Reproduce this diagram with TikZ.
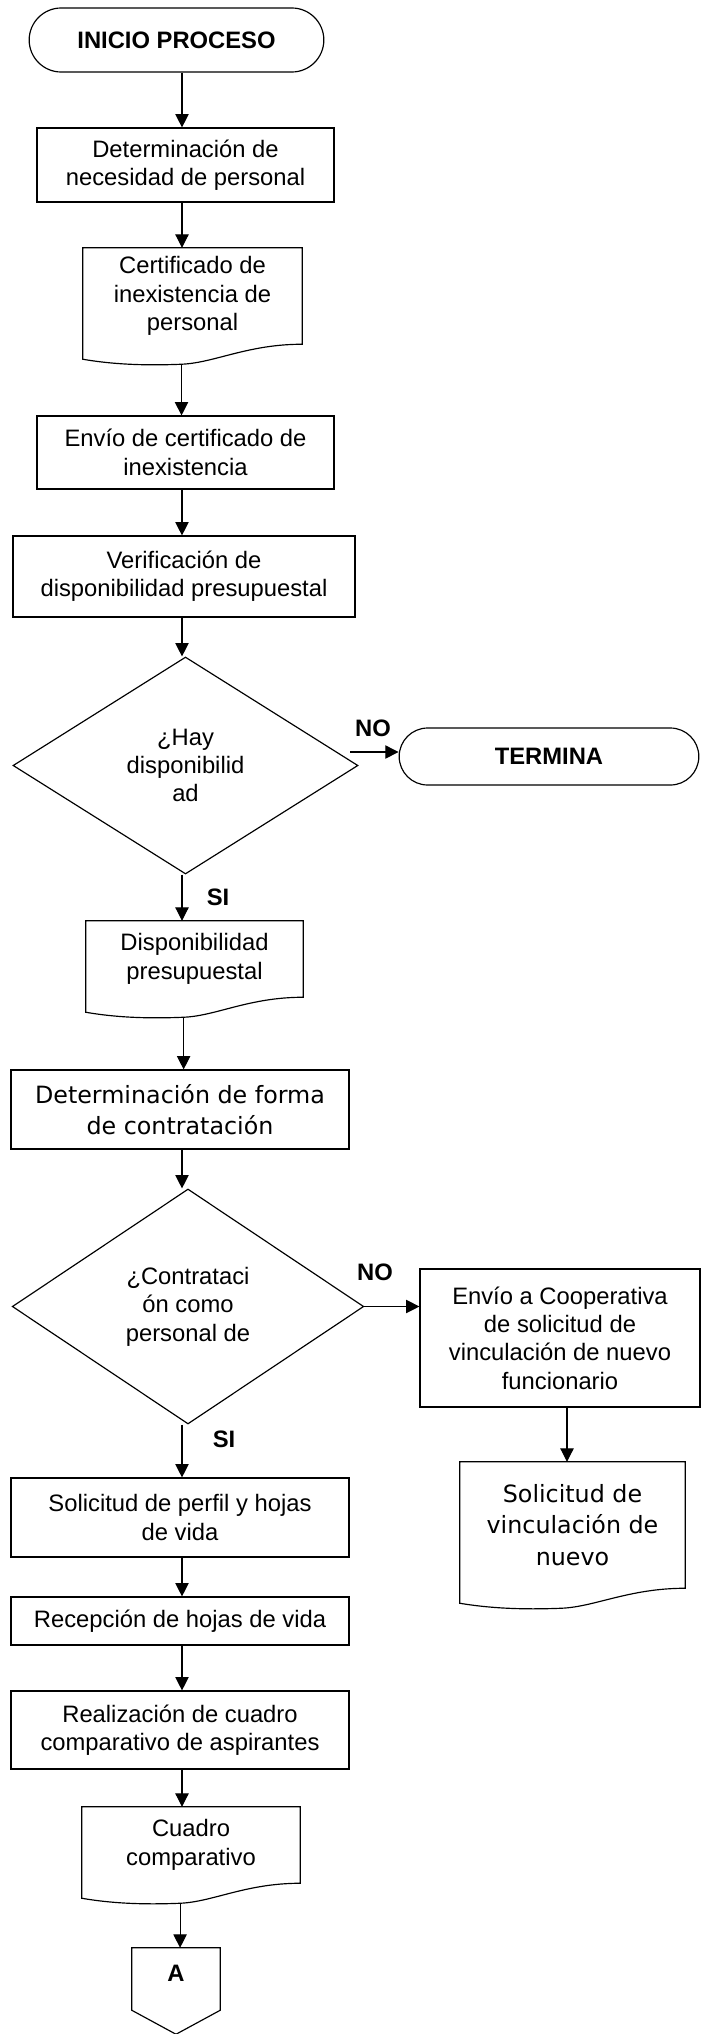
\documentclass[tikz,border=0pt]{standalone}
\usepackage{fontspec}
\setmainfont{Liberation Sans}
\newfontfamily\verd{DejaVu Sans}
\usetikzlibrary{arrows.meta,shapes.geometric,shapes.misc,calc}
\newcommand{\fsz}{\fontsize{20.3}{24.2}\selectfont}
\newcommand{\fszv}{\fontsize{20.3}{27}\selectfont}
\tikzset{
  arr/.style={line width=0.9pt, -{Triangle[length=4mm, width=4mm]}},
  shp/.style={line width=1pt},
  proc/.style={draw, line width=1pt, align=center, font=\fsz, inner sep=1pt},
  term/.style={draw, rounded rectangle, line width=1pt, font=\fsz\bfseries, inner sep=1pt},
  dec/.style={draw, diamond, line width=1pt, align=center, font=\fsz, inner sep=0pt},
  docbox/.style={align=center, font=\fsz, inner sep=0pt},
  lbl/.style={font=\fsz\bfseries, inner sep=0pt},
}
\newcommand{\docshape}[1]{\coordinate (#1out) at ($(#1.south west)!0.45!(#1.south east)+(0,-0.6)$);
  \draw[shp] (#1.south east) -- (#1.north east) -- (#1.north west) -- ([yshift=-0.45cm]#1.south west)
  .. controls ($(#1.south west)!0.15!(#1.south east)+(0,-0.62)$) and ($(#1.south west)!0.3!(#1.south east)+(0,-0.64)$) .. (#1out)
  .. controls ($(#1.south west)!0.6!(#1.south east)+(0,-0.56)$) and ($(#1.south west)!0.75!(#1.south east)$) .. (#1.south east) -- cycle;}
\def\xC{5.46}
\def\xR{17.01}

\begin{document}
\begin{tikzpicture}
\useasboundingbox (0,0) rectangle (21.03,-61.02);
\coordinate (col) at (\xC,0);
\coordinate (rcol) at (\xR,0);

\node[term, minimum width=8.91cm, minimum height=1.92cm] (ini) at (5.295,-1.2) {INICIO PROCESO};
\node[proc, minimum width=8.91cm, minimum height=2.22cm] (nec) at (5.565,-4.95) {Determinación de\\necesidad de personal};
\node[docbox, minimum width=6.57cm, minimum height=2.88cm] (cert) at (5.775,-8.88) {Certificado de\\inexistencia de\\personal};
\node[proc, minimum width=8.91cm, minimum height=2.19cm] (env) at (5.565,-13.575) {Envío de certificado de\\inexistencia};
\node[proc, minimum width=10.26cm, minimum height=2.43cm] (ver) at (5.52,-17.295) {Verificación de\\disponibilidad presupuestal};
\node[dec, minimum width=10.35cm, minimum height=6.51cm] (hay) at (5.565,-22.965) {¿Hay\\disponibilid\\ad};
\node[term, minimum width=9.06cm, minimum height=1.71cm] (fin) at (16.47,-22.695) {TERMINA};
\node[docbox, minimum width=6.51cm, minimum height=2.28cm] (disp) at (5.835,-28.77) {Disponibilidad\\presupuestal};
\node[proc, font=\verd\fszv, minimum width=10.14cm, minimum height=2.37cm] (forma) at (5.4,-33.285) {Determinación de forma\\de contratación};
\node[dec, minimum width=10.545cm, minimum height=7.05cm] (cont) at (5.64,-39.195) {¿Contrataci\\ón como\\personal de};
\node[proc, minimum width=8.4cm, minimum height=4.14cm] (coop) at (16.8,-40.14) {Envío a Cooperativa\\de solicitud de\\vinculación de nuevo\\funcionario};
\node[docbox, font=\verd\fszv, minimum width=6.75cm, minimum height=3.78cm] (sol) at (17.175,-45.75) {Solicitud de\\vinculación de\\nuevo};
\node[proc, minimum width=10.14cm, minimum height=2.37cm] (perf) at (5.4,-45.525) {Solicitud de perfil y hojas\\de vida};
\node[proc, minimum width=10.14cm, minimum height=1.44cm] (rec) at (5.4,-48.63) {Recepción de hojas de vida};
\node[proc, minimum width=10.14cm, minimum height=2.34cm] (real) at (5.4,-51.9) {Realización de cuadro\\comparativo de aspirantes};
\node[docbox, minimum width=6.54cm, minimum height=2.28cm] (cuad) at (5.73,-55.35) {Cuadro\\comparativo};
\node[lbl, minimum width=2.64cm, minimum height=1.5cm] (conA) at (5.28,-59.19) {A};

\node[lbl] (no1l) at (11.19,-21.84) {NO};
\node[lbl] (si1l) at (6.54,-26.91) {SI};
\node[lbl] (no2l) at (11.25,-38.16) {NO};
\node[lbl] (si2l) at (6.72,-43.17) {SI};
\coordinate (no1) at (10.5,-22.56);

\docshape{cert}
\docshape{disp}
\docshape{sol}
\docshape{cuad}
\draw[shp] (conA.north west) -- (conA.north east) -- ([yshift=-0.36cm]conA.south east) -- ([yshift=-1.08cm]conA.south) -- ([yshift=-0.36cm]conA.south west) -- cycle;

\draw[arr] (ini.south -| col) -- (nec.north -| col);
\draw[arr] (nec.south -| col) -- (cert.north -| col);
\draw[arr] (certout) -- (certout |- env.north);
\draw[arr] (env.south -| col) -- (ver.north -| col);
\draw[arr] (ver.south -| col) -- (hay.north -| col);
\draw[arr] (no1) -- (no1 -| fin.west);
\draw[arr] (hay.south -| col) -- (disp.north -| col);
\draw[arr] (dispout) -- (dispout |- forma.north);
\draw[arr] (forma.south -| col) -- (cont.north -| col);
\draw[arr] (cont.east) -- (cont.east -| coop.west);
\draw[arr] (coop.south -| rcol) -- (sol.north -| rcol);
\draw[arr] (cont.south -| col) -- (perf.north -| col);
\draw[arr] (perf.south -| col) -- (rec.north -| col);
\draw[arr] (rec.south -| col) -- (real.north -| col);
\draw[arr] (real.south -| col) -- (cuad.north -| col);
\draw[arr] (cuadout) -- (cuadout |- conA.north);

\end{tikzpicture}
\end{document}
